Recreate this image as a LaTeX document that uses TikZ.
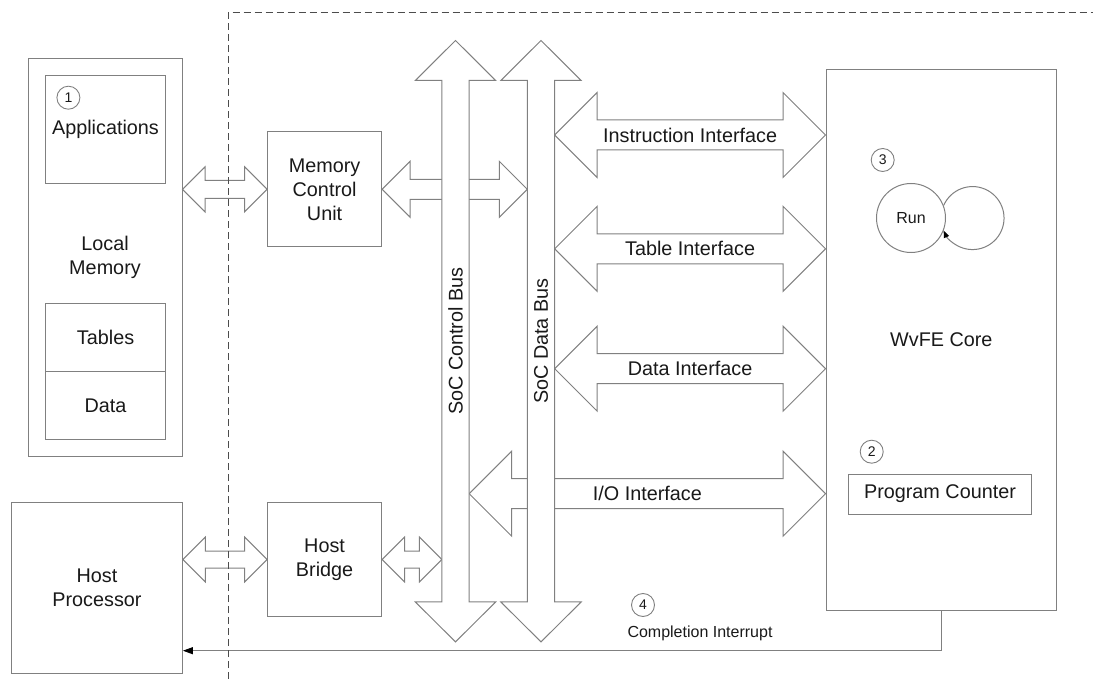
\documentclass[tikz,border=0pt]{standalone}
\usepackage{fontspec}
\setmainfont{Liberation Sans}
\usetikzlibrary{calc,arrows.meta}

\definecolor{edgegray}{RGB}{128,128,128}
\definecolor{inkgray}{RGB}{25,25,25}

% Horizontal double block arrow: start, end, shaft half width, head size, label
\newcommand\hdarrow[5]{%
  \draw[blockarrow] (#1) -- ++(#4,-#4) -- ++(0,#4-#3) -- ($(#2)+(-#4,-#3)$)
    -- ++(0,#3-#4) -- (#2) -- ++(-#4,#4) -- ++(0,#3-#4) -- ($(#1)+(#4,#3)$)
    -- ++(0,#4-#3) -- cycle;
  \path (#1) -- node[iflabel]{#5} (#2);}

% Vertical bus arrow drawn around a shaft node: node, head overhang, head length
\newcommand\vbus[3]{%
  \draw[blockarrow] (#1.north west) -- ++(-#2,0) -- ($(#1.north)+(0,-#3)$)
    -- ($(#1.north east)+(#2,0)$) -- (#1.north east) -- (#1.south east)
    -- ++(#2,0) -- ($(#1.south)+(0,#3)$) -- ($(#1.south west)+(-#2,0)$)
    -- (#1.south west) -- cycle;}

\tikzset{
  box/.style={draw=edgegray, line width=1pt, inner sep=0pt, align=center,
    font=\fontsize{19.8}{24}\selectfont, text=inkgray},
  blockarrow/.style={draw=edgegray, line width=1pt, fill=white, line join=miter},
  iflabel/.style={font=\fontsize{19.8}{24}\selectfont, text=inkgray, inner sep=0pt},
  numcircle/.style={circle, draw=edgegray, line width=0.9pt, minimum size=23pt,
    inner sep=0pt, font=\fontsize{14}{14}\selectfont, text=inkgray},
  smalltext/.style={font=\fontsize{16}{18}\selectfont, text=inkgray},
  shaft/.style={draw=none, inner sep=0pt, minimum width=27pt, minimum height=521pt},
  buslabel/.style={rotate=90, font=\fontsize{19.8}{24}\selectfont, text=inkgray, inner sep=0pt},
  wire/.style={draw=edgegray, line width=1pt},
  boundary/.style={draw=black!70, line width=0.8pt, dash pattern=on 7pt off 4pt},
}

\begin{document}
\begin{tikzpicture}[x=1pt,y=-1pt]
\useasboundingbox (0,0) rectangle (1093,679);

% local memory and its regions
\node[box, minimum width=154pt, minimum height=398pt] (localmem) at (105,257.7) {Local\\Memory};
\node[box, minimum width=119.7pt, minimum height=108pt] (apps) at (105.5,129.3) {Applications};
\node[numcircle] (n1) at (68.4,97.7) {1};
\node[box, minimum width=119.8pt, minimum height=68.2pt] (tables) at (105.6,337.4) {Tables};
\node[box, minimum width=119.8pt, minimum height=68pt] (data) at (105.6,405.5) {Data};

% host side
\node[box, minimum width=170.8pt, minimum height=170.6pt] (host) at (97,588) {Host\\Processor};
\node[box, minimum width=114pt, minimum height=114.7pt] (mcu) at (324.6,189.3) {Memory\\Control\\Unit};
\node[box, minimum width=114pt, minimum height=113.6pt] (hb) at (324.6,559.5) {Host\\Bridge};

% bus shafts
\node[shaft] (ctrlbus) at (455.5,341.2) {};
\node[shaft] (databus) at (541,341.2) {};

% core
\node[box, minimum width=230.7pt, minimum height=541.4pt] (core) at (941.35,340) {WvFE Core};
\node[box, minimum width=183.4pt, minimum height=40pt] (pc) at (940,494) {Program Counter};
\node[numcircle] (n2) at (871.7,451.7) {2};
\node[numcircle] (n3) at (882.7,160) {3};
\node[circle, draw=edgegray, line width=1pt, minimum size=69pt, inner sep=0pt, smalltext] (run) at (911,218) {Run};
\draw[wire, -{Triangle[length=7pt,width=5.5pt,color=black]}]
  (run.21.4) arc[start angle=203.6, end angle=516.4, radius=31.5];

% arrow end points
\coordinate (lmA) at (mcu.west -| localmem.east);
\coordinate (hpA) at (hb.west -| host.east);
\coordinate (hbB) at (hb.east -| ctrlbus.west);
\coordinate (mcuB) at (mcu.east -| databus.west);
\coordinate (yinstr) at (0,135);
\coordinate (ytable) at (0,248.8);
\coordinate (ydata) at (0,368.7);
\coordinate (yio) at (0,493.7);
\coordinate (insA) at (databus.east |- yinstr);
\coordinate (insB) at (core.west |- yinstr);
\coordinate (tabA) at (databus.east |- ytable);
\coordinate (tabB) at (core.west |- ytable);
\coordinate (datA) at (databus.east |- ydata);
\coordinate (datB) at (core.west |- ydata);
\coordinate (ioA) at (ctrlbus.east |- yio);
\coordinate (ioB) at (core.west |- yio);

% block arrows
\hdarrow{lmA}{mcu.west}{9}{22.5}{}
\hdarrow{hpA}{hb.west}{8.5}{22.5}{}
\hdarrow{hb.east}{hbB}{8.5}{22.5}{}
\hdarrow{mcu.east}{mcuB}{10}{28}{}
\hdarrow{insA}{insB}{15}{42.5}{Instruction Interface}
\hdarrow{tabA}{tabB}{15}{42.5}{Table Interface}
\hdarrow{datA}{datB}{15}{42.5}{Data Interface}
\hdarrow{ioA}{ioB}{15}{42.5}{I/O Interface}

% buses
\vbus{ctrlbus}{26.5}{40}
\vbus{databus}{26.5}{40}
\node[buslabel] at (ctrlbus.center) {SoC Control Bus};
\node[buslabel] at (databus.center) {SoC Data Bus};

% completion interrupt
\node[numcircle] (n4) at (643,605) {4};
\node[smalltext, inner sep=0pt] (irqtext) at (700,633) {Completion Interrupt};
\coordinate (irqcorner) at (core.south |- 0,650.7);
\draw[wire, -{Triangle[length=10pt,width=7pt,color=black]}]
  (core.south) -- (irqcorner) -- (irqcorner -| host.east);

% chip boundary
\draw[boundary] (228,679) -- (228,12.7) -- (1093,12.7);
\end{tikzpicture}
\end{document}
